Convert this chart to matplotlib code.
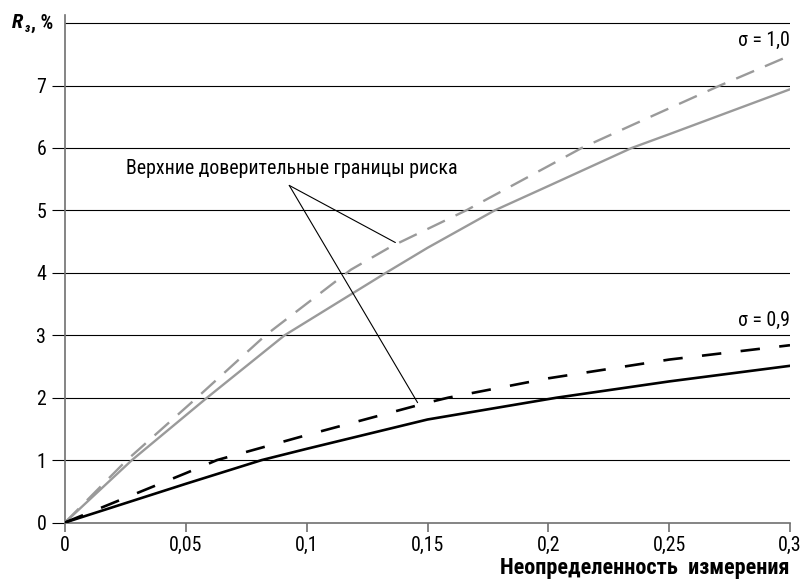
import matplotlib
matplotlib.use("Agg")
import matplotlib.pyplot as plt
from matplotlib import font_manager

# данные
x_gray_solid = [0, 0.0277, 0.0588, 0.0909, 0.1328, 0.15, 0.1778, 0.2, 0.2345, 0.25, 0.3]
y_gray_solid = [0, 1.0, 2.0, 3.0, 4.0, 4.4, 5.0, 5.39, 6.0, 6.22, 6.94]
x_gray_dash = [0, 0.0256, 0.0546, 0.083, 0.1183, 0.1349, 0.166, 0.2, 0.2138, 0.24, 0.271, 0.3]
y_gray_dash = [0, 1.0, 2.0, 3.0, 4.05, 4.42, 5.0, 5.71, 6.0, 6.46, 7.0, 7.48]
x_black_solid = [0, 0.05, 0.0814, 0.1, 0.15, 0.2035, 0.25, 0.3]
y_black_solid = [0, 0.62, 1.0, 1.18, 1.65, 2.0, 2.26, 2.51]
x_black_dash = [0, 0.05, 0.0629, 0.1, 0.15, 0.1586, 0.2, 0.25, 0.3]
y_black_dash = [0, 0.79, 1.0, 1.40, 1.92, 2.0, 2.31, 2.61, 2.84]
y_ticks = [0, 1, 2, 3, 4, 5, 6, 7]
x_ticks = [0, 0.05, 0.1, 0.15, 0.2, 0.25, 0.3]
x_tick_labels = ["0", "0,05", "0,1", "0,15", "0,2", "0,25", "0,3"]
grid_levels = [1, 2, 3, 4, 5, 6, 7, 8]

# узкий шрифт, если он есть
fonts = font_manager.fontManager.ttflist
names = {f.name for f in fonts}
family, stretch, scale = "Liberation Sans", "normal", 1.0
for cand in ("Liberation Sans Narrow", "Roboto Condensed", "Open Sans Condensed",
             "DejaVu Sans Condensed", "Noto Sans Condensed"):
    if cand in names:
        family, scale = cand, 1.12
        break
else:
    if any(f.name == "DejaVu Sans" and f.stretch == "condensed" for f in fonts):
        family, stretch, scale = "DejaVu Sans", "condensed", 1.0
plt.rcParams["font.family"] = [family, "DejaVu Sans"]
plt.rcParams["font.stretch"] = stretch
plt.rcParams["lines.scale_dashes"] = False
fs = 12.8 * scale

fig = plt.figure(figsize=(8.02, 5.79), dpi=100)
W, H = 802, 579
ax = fig.add_axes([65 / W, (H - 522.5) / H, 725 / W, 507.5 / H])
ax.set_xlim(0, 0.3)
ax.set_ylim(0, 8.13)

ax.hlines(grid_levels, 0, 0.3, color="black", linewidth=0.8, zorder=1)

gray = "#9a9a9a"
ax.plot(x_gray_solid, y_gray_solid, color=gray, linewidth=1.7, zorder=3)
ax.plot(x_gray_dash, y_gray_dash, color=gray, linewidth=1.7, dashes=(14, 8.5), zorder=3)
ax.plot(x_black_solid, y_black_solid, color="black", linewidth=1.9, zorder=3)
ax.plot(x_black_dash, y_black_dash, color="black", linewidth=1.9, dashes=(14, 14), zorder=3)

for side in ("top", "right"):
    ax.spines[side].set_visible(False)
for side in ("left", "bottom"):
    ax.spines[side].set_color("#707070")
    ax.spines[side].set_linewidth(1.2)

ax.set_yticks(y_ticks)
ax.set_yticklabels([str(v) for v in y_ticks])
ax.tick_params(axis="y", length=9.5, width=0.8, color="black", pad=4, labelsize=fs)
ax.set_xticks(x_ticks)
ax.set_xticklabels(x_tick_labels)
ax.tick_params(axis="x", length=6.5, width=1.2, color="#707070", pad=3, labelsize=fs)

ax.text(0.3, 7.72, "σ = 1,0", ha="right", va="center", fontsize=fs)
ax.text(0.3, 3.24, "σ = 0,9", ha="right", va="center", fontsize=fs)

ax.text(0.0253, 5.67, "Верхние доверительные границы риска", ha="left", va="center", fontsize=fs)
ax.annotate("", xy=(0.1367, 4.485), xytext=(0.0928, 5.40),
            arrowprops=dict(arrowstyle="-", color="black", linewidth=0.8, shrinkA=0, shrinkB=0))
ax.annotate("", xy=(0.1459, 1.92), xytext=(0.0928, 5.40),
            arrowprops=dict(arrowstyle="-", color="black", linewidth=0.8, shrinkA=0, shrinkB=0))

fig.text(790 / W, 1 - 568 / H, "Неопределенность  измерения", ha="right", va="center",
         fontsize=fs * 1.12, fontweight="bold")

# подпись оси Y: R с нижним индексом «з»
fig.text(12 / W, 1 - 23 / H, "R", ha="left", va="center", fontsize=fs * 1.05,
         fontweight="bold", style="italic")
fig.text(25 / W, 1 - 28 / H, "з", ha="left", va="center", fontsize=fs * 0.6,
         fontweight="bold", style="italic")
fig.text(31 / W, 1 - 23 / H, ", %", ha="left", va="center", fontsize=fs, fontweight="bold")

fig.savefig("out.png", dpi=100)
plt.close(fig)
